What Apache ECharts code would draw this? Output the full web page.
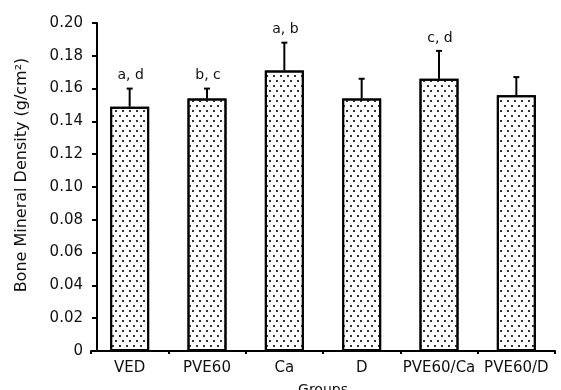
<!DOCTYPE html>
<html><head><meta charset="utf-8">
<script src="https://cdn.jsdelivr.net/npm/echarts@6/dist/echarts.min.js"></script>
<style>html,body{margin:0;padding:0;background:#fff}#c{width:561px;height:390px}</style>
</head><body><div id="c"></div>
<script>
const categories = ['VED', 'PVE60', 'Ca', 'D', 'PVE60/Ca', 'PVE60/D'];
const bmdMean = [0.149, 0.154, 0.171, 0.154, 0.166, 0.156];
const bmdErr = [0.011, 0.006, 0.017, 0.012, 0.017, 0.011];
const sigLabels = ['a, d', 'b, c', 'a, b', '', 'c, d', ''];
const yTicks = { min: 0, max: 0.20, step: 0.02 };

const font = '"DejaVu Sans", sans-serif';
const chart = echarts.init(document.getElementById('c'), null, { renderer: 'canvas' });
chart.setOption({
  animation: false,
  backgroundColor: '#fff',
  grid: { left: 91, right: 6, top: 23, bottom: 39, containLabel: false, outerBoundsMode: 'none' },
  xAxis: {
    type: 'category',
    data: categories,
    name: 'Groups',
    nameLocation: 'middle',
    nameGap: 32,
    nameTextStyle: { color: '#111', fontSize: 14, fontFamily: font },
    axisLine: { lineStyle: { color: '#000', width: 2 } },
    axisTick: { show: true, length: 3, lineStyle: { color: '#000', width: 2 } },
    axisLabel: { color: '#111', fontSize: 15, fontFamily: font, margin: 10, interval: 0 }
  },
  yAxis: {
    type: 'value',
    min: yTicks.min, max: yTicks.max, interval: yTicks.step,
    offset: -6,
    name: 'Bone Mineral Density (g/cm²)',
    nameLocation: 'middle',
    nameGap: 67,
    nameTextStyle: { color: '#111', fontSize: 16, fontFamily: font, padding: [0, 0, 0, 24] },
    splitLine: { show: false },
    axisLine: { show: true, lineStyle: { color: '#000', width: 2 } },
    axisTick: { show: true, length: 5, lineStyle: { color: '#000', width: 2 } },
    axisLabel: {
      color: '#111', fontSize: 15, fontFamily: font, margin: 14,
      formatter: v => (v === 0 ? '0' : v.toFixed(2))
    }
  },
  series: [
    {
      type: 'bar',
      data: bmdMean,
      barWidth: 39,
      itemStyle: {
        color: '#fff',
        borderColor: '#000',
        borderWidth: 2,
        decal: {
          symbol: 'rect',
          symbolSize: 1,
          color: '#333',
          dashArrayX: [[1.2, 4.8], [0, 3, 1.2, 1.8]],
          dashArrayY: [1.2, 2.8]
        }
      }
    },
    {
      type: 'custom',
      data: bmdMean.map((v, i) => [i, v, bmdErr[i]]),
      z: 5,
      renderItem: function (params, api) {
        const i = api.value(0), v = api.value(1), e = api.value(2);
        const p0 = api.coord([i, v]);
        const p1 = api.coord([i, v + e]);
        const children = [
          { type: 'line', shape: { x1: p0[0], y1: p0[1], x2: p1[0], y2: p1[1] }, style: { stroke: '#000', lineWidth: 2 } },
          { type: 'line', shape: { x1: p1[0] - 3, y1: p1[1], x2: p1[0] + 3, y2: p1[1] }, style: { stroke: '#000', lineWidth: 2 } }
        ];
        const lab = sigLabels[params.dataIndex];
        if (lab) {
          children.push({ type: 'text', style: { text: lab, x: p1[0] + 1, y: p1[1] - 13, align: 'center', verticalAlign: 'middle', fill: '#111', font: '14px ' + font } });
        }
        return { type: 'group', children };
      }
    }
  ]
});
</script></body></html>
